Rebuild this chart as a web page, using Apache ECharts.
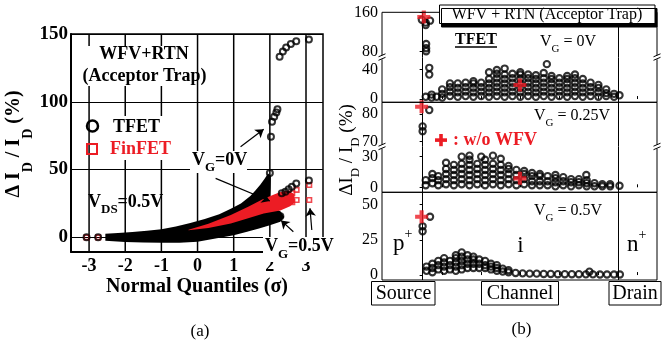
<!DOCTYPE html>
<html>
<head>
<meta charset="utf-8">
<script src="https://cdn.jsdelivr.net/npm/echarts@6.0.0/dist/echarts.min.js"></script>
<style>html,body{margin:0;padding:0;background:#fff;}#chart{width:665px;height:348px;}</style>
</head>
<body>
<div id="chart"></div>
<script>
const FONT = 'Liberation Serif';
const RED = '#ec1c24';

/* ---------- Panel (a): normal quantile plot ---------- */
const quantileTicks = [-3, -2, -1, 0, 1, 2, 3];
const quantileRange = [-3.5, 3.47];
const deltaTicksA = [0, 50, 100, 150];
const deltaRangeA = [-10.6, 150];
// outline of the dense TFET point band (all gate voltages overlapping)
const tfetBandUpper = [[-2.55,2.6],[-2.2,3.2],[-1.8,4.0],[-1.4,4.8],[-1.0,6.0],[-0.6,8.0],[-0.2,10.5],[0.2,13.5],[0.6,17.0],[0.92,21.0],[1.2,25.0],[1.46,30.5],[1.6,34.5],[1.74,39.0],[1.85,43.0],[1.95,47.0],[2.03,45.0],[2.02,36.0],[2.0,28.0],[2.1,22.0],[2.3,19.0],[2.4,15.0]];
const tfetBandLower = [[-2.55,-2.6],[-2.0,-3.4],[-1.5,-3.8],[-1.0,-4.0],[-0.5,-4.0],[0,-3.2],[0.46,-1.0],[1.0,1.5],[1.37,4.1],[1.7,6.5],[2.0,9.0],[2.29,11.5],[2.4,15.0]];
// outline of the dense FinFET point band (visible part)
const finfetBandUpper = [[-0.25,5.6],[0.3,10.0],[0.92,16.5],[1.4,22.5],[1.83,28.5],[2.1,31.5],[2.29,33.5],[2.5,34.5],[2.68,32.0]];
const finfetBandLower = [[-0.25,5.2],[0.3,6.8],[0.92,10.2],[1.4,14.0],[1.83,17.5],[2.29,19.8],[2.56,23.0],[2.68,25.5]];
// isolated points
const tfetPoints = [[-3.07,0],[-2.75,0],[2.0,47.5],[2.29,15.5],[2.03,74.2],[2.06,85.3],[2.12,89],[2.18,92],[2.21,94.4],[2.27,133.3],[2.36,137],[2.45,140],[2.58,142.6],[2.73,144.6],[3.08,146],[2.33,32.5],[2.43,33.7],[2.52,35.4],[2.61,37.4],[2.73,39.8],[3.08,42]];
const finfetPoints = [[-3.07,0],[-2.75,0],[2.62,32.5],[2.74,35],[3.09,38.6],[2.62,26],[2.74,27.5],[3.09,27.5]];
// annotation arrows [from, to]
const arrowsA = [[[1.19,66.8],[1.83,79.7]],[[0.5,43.5],[2.0,26.8]],[[2.65,4.1],[2.31,12.5]],[[3.16,5.4],[3.11,21.4]]];

/* ---------- Panel (b): dI/I vs trap position ---------- */
const positionTicks = [5, 15, 25, 35, 45, 55];
const junctionX = [0, 50];
const ticksVg0Upper = [80, 160];
const ticksVg0Lower = [0, 40];
const ticksVg025Upper = [70, 80];
const ticksVg025Lower = [0, 30];
const ticksVg05 = [0, 25, 50];
const vg0UpperPts = [[-0.2,145],[0.8,139],[1.9,143],[0.8,134],[0.9,95.5],[0.9,87],[0.9,81]];
const vg0LowerCols = [[0.8,[3]],[1.7,[33,42]],[2.3,[2,6]],[3.6,[3]],[5,[2,7,13]],[7,[4,10,16,21]],[9,[3,9,15,21]],[11,[4,10,16,22]],[13,[3,9,15,21,24]],[15,[4,10,16,22]],[17,[3,9,15,21,27,36]],[19,[4,10,16,22,28,34,39]],[21,[3,9,15,21,27,33,41]],[23,[4,10,16,22,28,34]],[25,[3,9,15,21,27,33,36]],[27,[4,10,16,22,28,33]],[29,[3,9,15,21,27,32]],[31,[4,10,16,22,28,35]],[31.8,[47]],[33,[3,9,15,21,27,31]],[35,[4,10,16,22,28]],[37,[3,9,15,21,27,31]],[39,[4,10,16,22,28,33]],[41,[3,9,15,21,27]],[43,[4,10,16,22]],[45,[3,9,15,19]],[47,[4,8,13]],[49,[3,7]],[50.4,[5]]];
const vg025UpperPts = [[1.7,81.4],[0,75.5],[0,73.8]];
const vg025LowerCols = [[0.8,[2,7]],[2.5,[4,9,13]],[4,[2,7,11]],[6,[3,8,13,18,24]],[8,[2,7,12,17,22]],[10,[3,8,13,18,23,30]],[12,[2,7,12,17,22,27,31]],[14,[3,8,13,18,23]],[15,[30]],[16,[2,7,12,17,22,27]],[18,[3,8,13,18,23,31]],[20,[2,7,12,17,22,28]],[22,[3,8,13,18,21]],[24,[2,7,12,17]],[26,[3,8,13,16]],[28,[2,6,11,14]],[30,[2,6,11,13]],[32,[2,6,11]],[34,[1,5,9,12]],[36,[2,6,10]],[38,[1,5,8]],[40,[2,5,8]],[41.9,[12]],[42,[1,4,7]],[44,[1,4]],[46,[1,3]],[48,[1,3]],[50.4,[1.5]]];
const vg05Cols = [[0,[31,34.5]],[1.9,[41.3]],[1,[3,6]],[2.5,[2,5,8]],[4,[4,7,10]],[5.5,[3,6,9,12]],[7,[4,7,10]],[8.5,[3,6,9,12,14]],[10,[4,7,10,13,16]],[11.5,[5,8,11,14]],[13,[5,8,11,13]],[14.5,[5,8,11]],[16,[5,7,10]],[17.5,[4,6,8]],[19,[3,5,7]],[20.5,[2.5,4.5]],[22,[2,3.5]],[23.8,[1.5]],[25.6,[1.2]],[27.4,[1]],[29.2,[1]],[31,[0.8]],[32.8,[0.8]],[34.6,[0.6]],[36.4,[0.6]],[38.2,[0.6]],[40,[0.6]],[41.8,[0.5]],[42.7,[2.4]],[43.6,[0.5]],[45.4,[0.4]],[47.2,[0.4]],[49,[0.4]],[50.5,[0.4]]];
// "+ : w/o WFV"
const noWfvVg0Upper = [[0.3,150.5]];
const noWfvVg0Lower = [[24.9,18.9]];
const noWfvVg025Upper = [[-0.26,82.6]];
const noWfvVg025Lower = [[24.9,8.8]];
const noWfvVg05 = [[-0.26,41.3]];

/* ---------- build ---------- */
const flat = cols => cols.flatMap(([x, ys]) => ys.map(y => [x, y]));
const polyOf = (up, lo) => up.concat(lo.slice().reverse());
const polygonRender = (poly, color) => (params, api) => ({
  type: 'polygon', shape: { points: poly.map(p => api.coord(p)) }, style: { fill: color }
});
const PLUS = 'path://M3.4,0H6.6V3.4H10V6.6H6.6V10H3.4V6.6H0V3.4H3.4Z';

const grids = [
  { left: 71, top: 34, width: 252, height: 217.7 },
  { left: 382, top: 12.3, width: 275, height: 45 },
  { left: 382, top: 57.3, width: 275, height: 45 },
  { left: 382, top: 102.3, width: 275, height: 44.4 },
  { left: 382, top: 146.7, width: 275, height: 45.6 },
  { left: 382, top: 192.3, width: 275, height: 87.7 }
].map(g => Object.assign({ containLabel: false, outerBoundsMode: 'none', show: false }, g));

const yRanges = [null, [68.6, 160], [-4.4, 56.2], [68.2, 84.2], [-4.9, 39.8], [-3.5, 58.6]];
const yTicksB = [null, ticksVg0Upper, ticksVg0Lower, ticksVg025Upper, ticksVg025Lower, ticksVg05];

const xAxes = [{
  gridIndex: 0, type: 'value', min: quantileRange[0], max: quantileRange[1],
  axisLine: { show: true, onZero: false, lineStyle: { color: '#000', width: 2 } },
  axisTick: { show: false, customValues: quantileTicks },
  axisLabel: { customValues: quantileTicks, color: '#000', fontFamily: FONT, fontWeight: 'bold', fontSize: 18, margin: 6 },
  splitLine: { show: false }
}];
const yAxes = [{
  gridIndex: 0, type: 'value', min: deltaRangeA[0], max: deltaRangeA[1],
  axisLine: { show: true, onZero: false, lineStyle: { color: '#000', width: 2 } },
  axisTick: { show: false, customValues: deltaTicksA },
  axisLabel: { customValues: deltaTicksA, color: '#000', fontFamily: FONT, fontWeight: 'bold', fontSize: 19, margin: 3 },
  splitLine: { show: true, lineStyle: { color: '#000', width: 1 } }
}];
for (let i = 1; i <= 5; i++) {
  const bottomTicks = (i === 2 || i === 4 || i === 5);
  xAxes.push({
    gridIndex: i, type: 'value', min: -10.4, max: 60,
    axisLine: { show: false }, axisLabel: { show: false }, splitLine: { show: false },
    axisTick: { show: bottomTicks, inside: true, length: 3, customValues: positionTicks, lineStyle: { color: '#000', width: 1 } }
  });
  yAxes.push({
    gridIndex: i, type: 'value', min: yRanges[i][0], max: yRanges[i][1],
    axisLine: { show: false }, splitLine: { show: false },
    axisTick: { show: true, length: 3, customValues: yTicksB[i], lineStyle: { color: '#000', width: 1 } },
    axisLabel: { customValues: yTicksB[i], color: '#000', fontFamily: FONT, fontSize: 16, margin: 4 }
  });
}

const circleStyleA = { color: 'rgba(0,0,0,0)', borderColor: '#000', borderWidth: 2 };
const circleStyleB = { color: 'rgba(0,0,0,0)', borderColor: '#000', borderWidth: 2.1 };

const series = [];
// vertical grid lines of panel (a)
quantileTicks.forEach(v => series.push({
  type: 'line', xAxisIndex: 0, yAxisIndex: 0, data: [[v, deltaRangeA[0]], [v, deltaRangeA[1]]],
  showSymbol: false, silent: true, z: 1, clip: false, lineStyle: { color: '#000', width: 1.5 }
}));
series.push(
  { type: 'custom', xAxisIndex: 0, yAxisIndex: 0, data: [[0, 0]], silent: true, z: 2,
    renderItem: polygonRender(polyOf(tfetBandUpper, tfetBandLower), '#000') },
  { type: 'custom', xAxisIndex: 0, yAxisIndex: 0, data: [[0, 0]], silent: true, z: 3,
    renderItem: polygonRender(polyOf(finfetBandUpper, finfetBandLower), RED) },
  { type: 'scatter', xAxisIndex: 0, yAxisIndex: 0, data: finfetPoints, symbol: 'rect', symbolSize: 4.5, z: 4,
    itemStyle: { color: 'rgba(0,0,0,0)', borderColor: RED, borderWidth: 1.6 } },
  { type: 'scatter', xAxisIndex: 0, yAxisIndex: 0, data: tfetPoints, symbol: 'circle', symbolSize: 6, z: 5,
    itemStyle: circleStyleA,
    markLine: { silent: true, symbol: ['none', 'arrow'], symbolSize: 8, label: { show: false },
      lineStyle: { color: '#000', width: 1.2, type: 'solid' }, animation: false,
      data: arrowsA.map(([a, b]) => [{ coord: a }, { coord: b }]) } }
);

const bSets = [
  [1, vg0UpperPts, noWfvVg0Upper],
  [2, flat(vg0LowerCols), noWfvVg0Lower],
  [3, vg025UpperPts, noWfvVg025Upper],
  [4, flat(vg025LowerCols), noWfvVg025Lower],
  [5, flat(vg05Cols), noWfvVg05]
];
bSets.forEach(([gi, pts, plus]) => {
  series.push({
    type: 'scatter', xAxisIndex: gi, yAxisIndex: gi, data: pts, symbol: 'circle', symbolSize: 6.3, z: 4,
    itemStyle: circleStyleB,
    markLine: { silent: true, symbol: ['none', 'none'], label: { show: false }, animation: false,
      lineStyle: { color: '#000', width: 1, type: 'solid' }, data: junctionX.map(v => ({ xAxis: v })) }
  });
  series.push({
    type: 'scatter', xAxisIndex: gi, yAxisIndex: gi, data: plus, symbol: PLUS, symbolSize: 13, z: 6,
    itemStyle: { color: RED }
  });
});

/* ---------- text & decoration ---------- */
function txt(x, y, text, o) {
  o = o || {};
  return { type: 'text', x, y, z: o.z || 80, rotation: o.rot || 0,
    style: { text, fontFamily: FONT, fontSize: o.size || 16, fontWeight: o.bold ? 'bold' : 'normal',
      fill: o.color || '#000', align: o.align || 'center', verticalAlign: o.valign || 'middle',
      textAlign: o.align || 'center', textVerticalAlign: o.valign || 'middle' } };
}
function rich(x, y, parts, o) {
  const size = o.size, sub = o.sub || Math.round(size * 0.7), L = o.lh || size + 10;
  const base = { fontFamily: FONT, fontWeight: o.bold ? 'bold' : 'normal', fill: o.color || '#000' };
  const r = {
    m: Object.assign({ fontSize: size, lineHeight: L }, base),
    s: Object.assign({ fontSize: sub, lineHeight: sub, verticalAlign: 'bottom' }, base),
    u: Object.assign({ fontSize: sub, lineHeight: sub, verticalAlign: 'top' }, base)
  };
  const text = parts.map(([t, k]) => '{' + (k || 'm') + '|' + t + '}').join('');
  return { type: 'text', x, y, z: 80, rotation: o.rot || 0,
    style: { text, rich: r, align: o.align || 'left', verticalAlign: 'middle',
      textAlign: o.align || 'left', textVerticalAlign: 'middle' } };
}
function rect(x, y, w, h, o) {
  o = o || {};
  return { type: 'rect', z: o.z || 60, shape: { x, y, width: w, height: h },
    style: Object.assign({ fill: o.fill || 'none', stroke: o.stroke === undefined ? '#000' : o.stroke, lineWidth: o.lw || 1 }, o.extra || {}) };
}
function line(x1, y1, x2, y2, w, z) {
  return { type: 'line', z: z || 70, shape: { x1, y1, x2, y2 }, style: { stroke: '#000', lineWidth: w || 1 } };
}
function breakMark(x, y) {
  return [rect(x - 3, y - 2, 6, 4, { fill: '#fff', stroke: null, z: 68 }),
    line(x - 3.5, y - 0.5, x + 3.5, y - 3.5, 1, 70), line(x - 3.5, y + 3, x + 3.5, y, 1, 70)];
}

const g = [];
// panel (a)
g.push(rect(71, 34, 252, 217.7, { lw: 1.5, z: 55 }));
g.push(rect(84, 46, 112, 40, { fill: '#fff', stroke: null, z: 40 }));
g.push(txt(144, 54, 'WFV+RTN', { size: 18, bold: true }));
g.push(txt(144.5, 76, '(Acceptor Trap)', { size: 18, bold: true }));
g.push({ type: 'circle', z: 80, shape: { cx: 92.5, cy: 126, r: 5.5 }, style: { fill: 'none', stroke: '#000', lineWidth: 2.5 } });
g.push(rect(87, 144, 10, 10, { stroke: RED, lw: 2, z: 80 }));
g.push(rect(110, 116, 62, 44, { fill: '#fff', stroke: null, z: 40 }));
g.push(txt(113, 127, 'TFET', { size: 18, bold: true, align: 'left' }));
g.push(txt(110, 149, 'FinFET', { size: 18, bold: true, align: 'left', color: RED }));
g.push(rect(190, 151, 57, 22, { fill: '#fff', stroke: null, z: 40 }));
g.push(rich(192, 160, [['V'], ['G', 's'], ['=0V']], { size: 18, sub: 13, bold: true, lh: 28 }));
g.push(rich(88, 202, [['V'], ['DS', 's'], ['=0.5V']], { size: 18, sub: 13, bold: true, lh: 28 }));
g.push(rect(263, 237, 72, 25, { fill: '#fff', stroke: null, z: 58 }));
g.push(rich(265, 246.5, [['V'], ['G', 's'], ['=0.5V']], { size: 18, sub: 13, bold: true, lh: 30 }));
g.push(txt(197, 286.5, 'Normal Quantiles (σ)', { size: 20, bold: true }));
g.push(rich(14, 144, [['Δ I'], ['D', 's'], [' / I'], ['D', 's'], [' (%)']], { size: 20, sub: 14, bold: true, lh: 42, align: 'center', rot: Math.PI / 2 }));
g.push(txt(200, 332, '(a)', { size: 17 }));
// panel (b)
g.push(rect(382, 12.3, 275, 90, { z: 55 }));
g.push(rect(382, 102.3, 275, 90, { z: 55 }));
g.push(rect(382, 192.3, 275, 87.7, { z: 55 }));
[[382, 57.3], [657, 57.3], [382, 146.7], [657, 146.7]].forEach(([x, y]) => g.push(...breakMark(x, y)));
g.push(rect(439.5, 5, 215.5, 18.5, { fill: '#fff', z: 75, extra: { shadowColor: '#000', shadowOffsetX: 2, shadowOffsetY: 3.5, shadowBlur: 0 } }));
g.push(txt(547, 14.5, 'WFV + RTN (Acceptor Trap)', { size: 16, z: 81 }));
g.push(txt(476, 40, 'TFET', { size: 16, bold: true }));
g.push(line(455, 47, 497, 47, 1.3, 80));
g.push(rich(540, 41.5, [['V'], ['G', 's'], [' = 0V']], { size: 16, sub: 11, lh: 26 }));
g.push(rich(534, 116, [['V'], ['G', 's'], [' = 0.25V']], { size: 16, sub: 11, lh: 26 }));
g.push(rich(534, 210.5, [['V'], ['G', 's'], [' = 0.5V']], { size: 16, sub: 11, lh: 26 }));
g.push(rect(435, 138.3, 12, 3.6, { fill: RED, stroke: null, z: 80 }));
g.push(rect(439.2, 134, 3.6, 12.2, { fill: RED, stroke: null, z: 80 }));
g.push(txt(453, 140, ': w/o WFV', { size: 18, bold: true, color: RED, align: 'left' }));
g.push(rich(393, 244, [['p'], ['+', 'u']], { size: 23, sub: 14, lh: 34 }));
g.push(txt(520.5, 246, 'i', { size: 23 }));
g.push(rich(627, 245, [['n'], ['+', 'u']], { size: 23, sub: 14, lh: 34 }));
g.push(rect(371.5, 281.5, 63.5, 23.5, { fill: '#fff', z: 60 }));
g.push(rect(481.5, 281.5, 77, 23.5, { fill: '#fff', z: 60 }));
g.push(rect(609, 281.5, 52, 23.5, { fill: '#fff', z: 60 }));
g.push(txt(403.5, 294, 'Source', { size: 20 }));
g.push(txt(520, 294, 'Channel', { size: 20 }));
g.push(txt(635, 294, 'Drain', { size: 20 }));
g.push(rich(347, 150, [['ΔI'], ['D', 's'], [' / I'], ['D', 's'], [' (%)']], { size: 19, sub: 13, lh: 30, align: 'center', rot: Math.PI / 2 }));
g.push(txt(521.5, 330, '(b)', { size: 17 }));

const chart = echarts.init(document.getElementById('chart'), null, { renderer: 'canvas' });
chart.setOption({
  animation: false,
  backgroundColor: '#fff',
  grid: grids,
  xAxis: xAxes,
  yAxis: yAxes,
  series: series,
  graphic: { elements: g }
});
</script>
</body>
</html>
